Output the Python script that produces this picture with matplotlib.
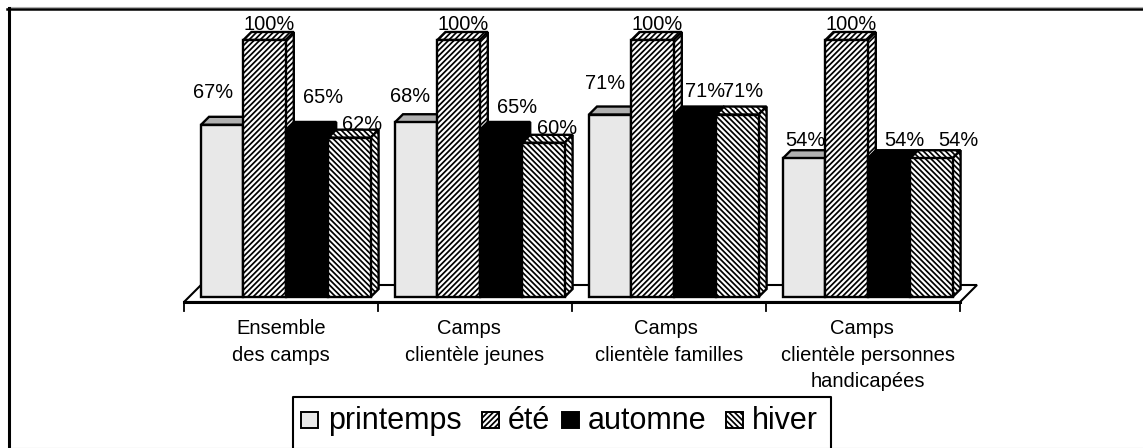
import matplotlib
matplotlib.use('Agg')
import matplotlib.pyplot as plt
from matplotlib.patches import Polygon, Rectangle

plt.rcParams['font.family'] = ['Liberation Sans', 'DejaVu Sans']
plt.rcParams['hatch.linewidth'] = 1.25

categories = ['Ensemble\ndes camps', 'Camps  \nclientèle jeunes',
              'Camps \nclientèle familles', 'Camps  \nclientèle personnes\nhandicapées']
seasons = ['printemps', 'été', 'automne', 'hiver']
printemps = [67, 68, 71, 54]
ete = [100, 100, 100, 100]
automne = [65, 65, 71, 54]
hiver = [62, 60, 71, 54]

# layout in pixels of the reference
W, H = 1143, 448
Y0, Y100 = 297, 40
PX = (Y0 - Y100) / 100
GROUP_X = 201
GROUP_STEP = 194
BAR_W = 42.4
DX, DY = 8, 8 / PX
LW = 1.7

styles = {
    'printemps': dict(fc='#e8e8e8', hatch=None, top='#b0b0b0', side='#b0b0b0'),
    'été': dict(fc='white', hatch='//////', top='white', side='white'),
    'automne': dict(fc='black', hatch=None, top='black', side='black'),
    'hiver': dict(fc='white', hatch='\\\\\\\\\\\\', top='white', side='white'),
}
# label offsets from the middle of the bar top, one per group
label_off = {
    'printemps': [(-9, -32), (-6, -26), (-5, -31), (1, -18)],
    'été': [(5, -16), (5, -16), (5, -16), (5, -16)],
    'automne': [(16, -32), (16, -22), (10, -23), (15, -18)],
    'hiver': [(13, -13), (14, -14), (6, -23), (27, -18)],
}
label_x = [281, 475, 669, 868]


def py(pixel_y):
    return (Y0 - pixel_y) / PX


fig = plt.figure(figsize=(W / 100, H / 100), dpi=100)
ax = fig.add_axes([0, 0, 1, 1])
ax.set_xlim(0, W)
ax.set_ylim(py(H), py(0))
ax.axis('off')

# outer frame, open on the right
ax.plot([8.5, W], [py(6.5), py(6.5)], color='#b0b0b0', lw=0.8, zorder=1)
ax.plot([7, W], [py(8.5), py(8.5)], color='black', lw=1.8, zorder=1)
ax.plot([8.5, 8.5], [py(7.5), py(H)], color='black', lw=2.2, zorder=1)
ax.plot([10, W], [py(447.5), py(447.5)], color='#b0b0b0', lw=0.8, zorder=1)

# floor
floor = [(184, py(302)), (201, py(285)), (977, py(285)), (960, py(302))]
ax.add_patch(Polygon(floor, closed=True, fc='white', ec='black', lw=1.5, zorder=2))
ax.plot([184, 960], [py(302), py(302)], color='black', lw=2.2, zorder=2)
for i in range(5):
    x = 184 + i * GROUP_STEP
    ax.plot([x, x], [py(302), py(311)], color='black', lw=1.3, zorder=2)

for x, cat in zip(label_x, categories):
    ax.text(x, py(319), cat, ha='center', va='top', fontsize=14.5, linespacing=1.5, zorder=10)

# later bars sit on top of earlier ones
for j, (name, vals) in enumerate(zip(seasons, [printemps, ete, automne, hiver])):
    st = styles[name]
    xs = [GROUP_X + i * GROUP_STEP + j * BAR_W for i in range(4)]
    z = 3 + j
    for x, v in zip(xs, vals):
        top = Polygon([(x, v), (x + DX, v + DY), (x + BAR_W + DX, v + DY), (x + BAR_W, v)],
                      closed=True, fc=st['top'], ec='black', lw=LW, hatch=st['hatch'], zorder=z)
        side = Polygon([(x + BAR_W, 0), (x + BAR_W + DX, DY), (x + BAR_W + DX, v + DY), (x + BAR_W, v)],
                       closed=True, fc=st['side'], ec='black', lw=LW, hatch=st['hatch'], zorder=z)
        ax.add_patch(top)
        ax.add_patch(side)
    ax.bar(xs, vals, width=BAR_W, align='edge', color=st['fc'], edgecolor='black', linewidth=LW,
           hatch=st['hatch'], zorder=z + 0.1)
    for x, v, (ox, oy) in zip(xs, vals, label_off[name]):
        ax.text(x + BAR_W / 2 + ox, v - oy / PX, f'{v}%', ha='center', va='center', fontsize=14.4,
                zorder=10)

# legend box, no bottom edge
ax.plot([293, 293, 831, 831], [py(447), py(397), py(397), py(447)], color='black', lw=1.5, zorder=5)
key_x = [301, 482, 562, 726]
text_x = [328, 508, 588, 752]
for name, kx, tx in zip(seasons, key_x, text_x):
    st = styles[name]
    ax.add_patch(Rectangle((kx, py(428)), 17, py(412) - py(428), fc=st['fc'], ec='black', lw=1.4,
                           hatch=st['hatch'], zorder=6))
    ax.text(tx, py(421), name, ha='left', va='center', fontsize=22, zorder=6)

fig.savefig('out.png', dpi=100)
